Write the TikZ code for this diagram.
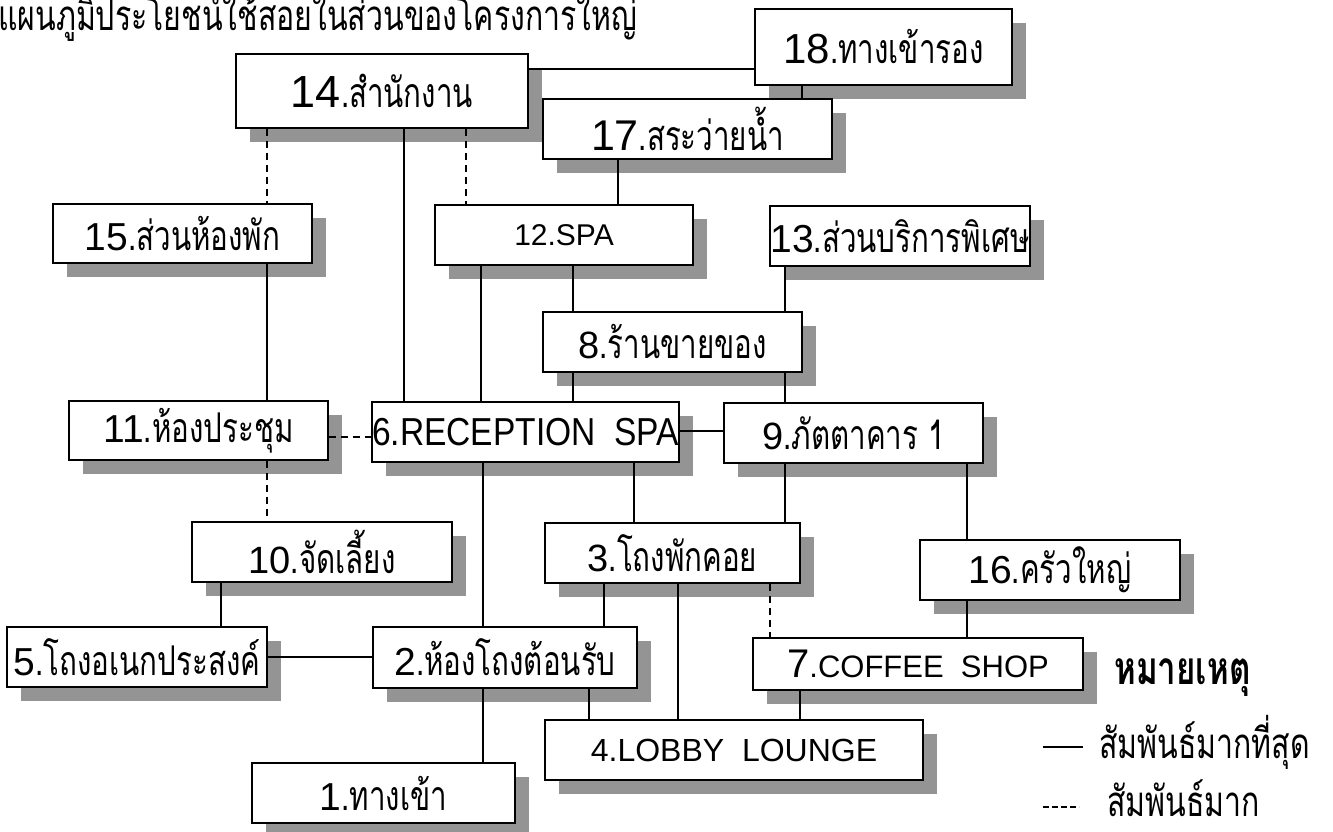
\documentclass[tikz,border=0pt]{standalone}
\usepackage{fontspec}
\usetikzlibrary{shadows}
\newfontfamily\numfont{Liberation Sans}
\newfontfamily\numnarrow[FakeStretch=0.86]{Liberation Sans}
\newfontfamily\thaifont[Script=Thai,FakeStretch=0.72]{Loma}

% room number in the sans face, then its Thai name
\newcommand{\nm}[2]{{\numfont\fontsize{#1}{#1}\selectfont #2}}
\newcommand{\thtext}[1]{{\thaifont\fontsize{41}{41}\selectfont #1}}
\newcommand{\room}[2]{\nm{#1}{#2}\thtext}

\tikzset{
  roombox/.style={draw=black, line width=2.5pt, fill=white, inner sep=0pt,
    general shadow={fill=black!42, shadow xshift=14pt, shadow yshift=-14pt}},
  link/.style={line width=2.2pt},
  weak/.style={line width=2.2pt, dash pattern=on 7pt off 5pt},
}

\begin{document}
\begin{tikzpicture}[x=1pt,y=-1pt]
\useasboundingbox (0,0) rectangle (1333,832);
\fill[white] (0,0) rectangle (1333,832);

% heading
\node[anchor=base west, inner sep=0pt] (title) at (-2,31)
  {\thaifont\fontsize{42}{42}\selectfont แผนภูมิประโยชน์ใช้สอยในส่วนของโครงการใหญ่};

% rooms
\node[roombox, minimum width=292pt, minimum height=74pt] (r14) at (382,91) {\room{45}{14}{.สำนักงาน}};
\node[roombox, minimum width=257pt, minimum height=76pt] (r18) at (883.5,47) {\room{42}{18}{.ทางเข้ารอง}};
\node[roombox, minimum width=289pt, minimum height=60pt] (r17) at (687.5,129) {\room{43}{17}{.สระว่ายน้ำ}};
\node[roombox, minimum width=259pt, minimum height=59pt] (r15) at (182.5,233.5) {\room{39}{15}{.ส่วนห้องพัก}};
\node[roombox, minimum width=258pt, minimum height=60pt] (r12) at (564,235) {\nm{30}{12.SPA}};
\node[roombox, minimum width=260pt, minimum height=60pt] (r13) at (900,236) {\room{39}{13}{.ส่วนบริการพิเศษ}};
\node[roombox, minimum width=259pt, minimum height=60pt] (r8) at (672.5,342) {\room{38}{8}{.ร้านขายของ}};
\node[roombox, minimum width=259pt, minimum height=59pt] (r11) at (198.5,430.5) {\room{39}{11}{.ห้องประชุม}};
\node[roombox, minimum width=305pt, minimum height=60pt] (r6) at (525.5,432) {{\numnarrow\fontsize{39}{39}\selectfont 6.RECEPTION\ \ SPA}};
\node[roombox, minimum width=259pt, minimum height=60pt] (r9) at (853.5,433) {\room{38}{9}{.ภัตตาคาร 1}};
\node[roombox, minimum width=260pt, minimum height=60pt] (r10) at (322,552) {\room{38}{10}{.จัดเลี้ยง}};
\node[roombox, minimum width=255pt, minimum height=60pt] (r3) at (672.5,553) {\room{38}{3}{.โถงพักคอย}};
\node[roombox, minimum width=260pt, minimum height=60pt] (r16) at (1050,570) {\room{39}{16}{.ครัวใหญ่}};
\node[roombox, minimum width=260pt, minimum height=60pt] (r5) at (137,657) {\room{39}{5}{.โถงอเนกประสงค์}};
\node[roombox, minimum width=264pt, minimum height=61pt] (r2) at (505,657.5) {\room{39}{2}{.ห้องโถงต้อนรับ}};
\node[roombox, minimum width=330pt, minimum height=52pt] (r7) at (918,664) {\nm{40}{7}\nm{31}{.COFFEE\ \ SHOP}};
\node[roombox, minimum width=378pt, minimum height=60pt] (r4) at (734,750) {\nm{32}{4.LOBBY\ \ LOUNGE}};
\node[roombox, minimum width=263pt, minimum height=60pt] (r1) at (383.5,793) {\room{39}{1}{.ทางเข้า}};

% strongest relations
\draw[link] (r14.east |- 0,69) -- (r18.west |- 0,69);
\draw[link] (r18.south -| 802,0) -- (r17.north -| 802,0);
\draw[link] (r17.south -| 618,0) -- (r12.north -| 618,0);
\draw[link] (r14.south -| 404,0) -- (r6.north -| 404,0);
\draw[link] (r15.south -| 267,0) -- (r11.north -| 267,0);
\draw[link] (r12.south -| 481,0) -- (r6.north -| 481,0);
\draw[link] (r12.south -| 573,0) -- (r8.north -| 573,0);
\draw[link] (r13.south -| 785,0) -- (r8.north -| 785,0);
\draw[link] (r8.south -| 573,0) -- (r6.north -| 573,0);
\draw[link] (r8.south -| 785,0) -- (r9.north -| 785,0);
\draw[link] (r6.east |- 0,431) -- (r9.west |- 0,431);
\draw[link] (r6.south -| 483,0) -- (r2.north -| 483,0);
\draw[link] (r6.south -| 634,0) -- (r3.north -| 634,0);
\draw[link] (r9.south -| 785,0) -- (r3.north -| 785,0);
\draw[link] (r9.south -| 967,0) -- (r16.north -| 967,0);
\draw[link] (r10.south -| 221,0) -- (r5.north -| 221,0);
\draw[link] (r5.east |- 0,657) -- (r2.west |- 0,657);
\draw[link] (r3.south -| 604,0) -- (r2.north -| 604,0);
\draw[link] (r3.south -| 678,0) -- (r4.north -| 678,0);
\draw[link] (r16.south -| 967,0) -- (r7.north -| 967,0);
\draw[link] (r2.south -| 483,0) -- (r1.north -| 483,0);
\draw[link] (r2.south -| 589,0) -- (r4.north -| 589,0);
\draw[link] (r7.south -| 800,0) -- (r4.north -| 800,0);

% strong relations
\draw[weak] (r14.south -| 267,0) -- (r15.north -| 267,0);
\draw[weak] (r14.south -| 466,0) -- (r12.north -| 466,0);
\draw[weak] (r11.east |- 0,437) -- (r6.west |- 0,437);
\draw[weak] (r11.south -| 267,0) -- (r10.north -| 267,0);
\draw[weak] (r3.south -| 770,0) -- (r7.north -| 770,0);

% legend
\node[anchor=base west, inner sep=0pt] (lgtitle) at (1114,684)
  {\thaifont\bfseries\fontsize{46}{46}\selectfont หมายเหตุ};
\node[anchor=base west, inner sep=0pt] (lgsolid) at (1099,758)
  {\thaifont\fontsize{42}{42}\selectfont สัมพันธ์มากที่สุด};
\node[anchor=base west, inner sep=0pt] (lgdash) at (1107,816)
  {\thaifont\fontsize{42}{42}\selectfont สัมพันธ์มาก};
\coordinate (ls1) at (1043,747);
\coordinate (ls2) at (1043,807);
\draw[line width=1.8pt] (ls1) -- ++(40,0);
\draw[line width=1.8pt, dash pattern=on 6pt off 3pt] (ls2) -- ++(36,0);
\end{tikzpicture}
\end{document}
